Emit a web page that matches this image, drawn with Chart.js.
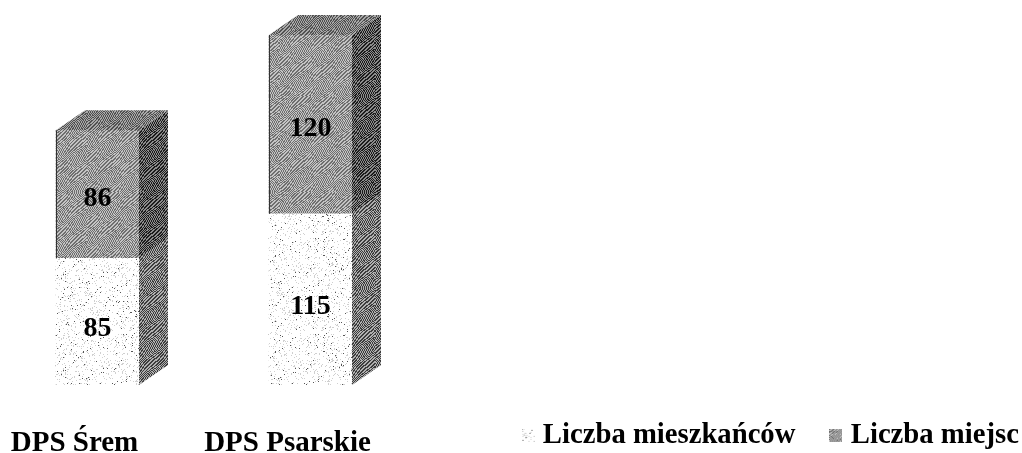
<!DOCTYPE html>
<html lang="pl">
<head>
<meta charset="UTF-8">
<title>DPS - liczba mieszkańców i miejsc</title>
<script src="https://cdn.jsdelivr.net/npm/chart.js"></script>
<style>
    html, body { margin: 0; padding: 0; background: #fff; overflow: hidden; }
    /* wrapper is pulled left so the category slots land under the scanned bars */
    #wrap { position: absolute; left: -9px; top: 0; width: 1031px; height: 453px; }
</style>
</head>
<body>
<div id="wrap"><canvas id="chart"></canvas></div>
<script>
const categories = ['DPS Śrem', 'DPS Psarskie'];
const seriesNames = ['Liczba mieszkańców', 'Liczba miejsc'];
const residents = [85, 115];
const places = [86, 120];

const FONT = '"Liberation Serif", serif';
const DX = 29, DY = 20;   // 3D depth

function noise(x, y) {
    const s = Math.sin(x * 12.9898 + y * 78.233) * 43758.5453;
    return s - Math.floor(s);
}

// scanned halftone look: square of pixels, used as pattern and as legend swatch
function tile(size, kind, a, b) {
    const c = document.createElement('canvas');
    c.width = c.height = size;
    const g = c.getContext('2d');
    g.fillStyle = '#fff';
    g.fillRect(0, 0, size, size);
    for (let y = 0; y < size; y++) {
        for (let x = 0; x < size; x++) {
            if (kind === 'dots') {
                const n = noise(x, y);
                if (n < 0.02) { g.fillStyle = '#555'; g.fillRect(x, y, 1, 1); }
                else if (n < 0.12) { g.fillStyle = '#d0d0d0'; g.fillRect(x, y, 1, 1); }
            } else {
                const wave = Math.floor(2.5 * Math.sin(y / 5 + x / 9) + 2 * Math.sin(x / 7));
                const on = (x + y + wave) % 2 === 0;
                g.fillStyle = on ? a : b;
                g.fillRect(x, y, 1, 1);
            }
        }
    }
    return c;
}

function pattern(kind, a, b) {
    return document.createElement('canvas').getContext('2d').createPattern(tile(96, kind, a, b), 'repeat');
}

const fillLow = pattern('dots');
const fillHigh = pattern('dither', '#6e6e6e', '#c4c4c4');
const sideLow = pattern('dither', '#3c3c3c', '#b0b0b0');
const sideHigh = pattern('dither', '#1c1c1c', '#8c8c8c');
const fillTop = pattern('dither', '#505050', '#a8a8a8');

function poly(ctx, pts, fill) {
    ctx.beginPath();
    pts.forEach((p, i) => i ? ctx.lineTo(p[0], p[1]) : ctx.moveTo(p[0], p[1]));
    ctx.closePath();
    ctx.fillStyle = fill;
    ctx.fill();
}

const boxes3d = {
    id: 'boxes3d',
    beforeLayout(chart) {
        // legend shares the row of the tick labels, it must not reserve any height
        const l = chart.legend;
        if (!l.patched) {
            const fit = l.fit;
            l.fit = function () { this.maxWidth = 1200; fit.call(this); this.height = 0; };
            l.patched = true;
        }
    },
    afterLayout(chart) {
        const l = chart.legend;
        l.left = 496.5;
        l.right = 1200;   // trailing padding of the last item would wrap it otherwise
        l.top = 381;
        l.bottom = chart.height;
    },
    afterDatasetsDraw(chart) {
        const ctx = chart.ctx;
        ctx.save();
        chart.data.datasets.forEach((ds, i) => {
            chart.getDatasetMeta(i).data.forEach((bar, j) => {
                const r = bar.x + bar.width / 2, l = bar.x - bar.width / 2;
                poly(ctx, [[r, bar.y], [r + DX, bar.y - DY], [r + DX, bar.base - DY], [r, bar.base]], i ? sideHigh : sideLow);
                if (i === chart.data.datasets.length - 1) {
                    poly(ctx, [[l, bar.y], [l + DX, bar.y - DY], [r + DX, bar.y - DY], [r, bar.y]], fillTop);
                    ctx.strokeStyle = '#333';
                    ctx.beginPath();
                    ctx.moveTo(l + 0.5, bar.base);
                    ctx.lineTo(l + 0.5, bar.y);
                    ctx.stroke();
                }
                ctx.fillStyle = '#000';
                ctx.font = 'bold 28px ' + FONT;
                ctx.textAlign = 'center';
                ctx.textBaseline = 'middle';
                // value labels sit a bit under the middle of the segment in the scan
                ctx.fillText(ds.data[j], bar.x, (bar.y + bar.base) / 2 + (i ? 4 : 7));
            });
        });
        ctx.restore();
    }
};

new Chart(document.getElementById('chart'), {
    type: 'bar',
    data: {
        labels: categories,
        datasets: [
            { label: seriesNames[0], data: residents, backgroundColor: fillLow, barThickness: 83, pointStyle: tile(13, 'dots') },
            { label: seriesNames[1], data: places, backgroundColor: fillHigh, barThickness: 83, pointStyle: tile(13, 'dither', '#6e6e6e', '#c4c4c4') }
        ]
    },
    options: {
        responsive: true,
        maintainAspectRatio: false,
        animation: false,
        layout: { padding: { top: 35, right: 605, bottom: 0, left: 0 } },
        plugins: {
            tooltip: { enabled: false },
            legend: {
                display: true,
                position: 'top',
                align: 'start',
                labels: {
                    color: '#000',
                    usePointStyle: true,
                    pointStyleWidth: 1,
                    padding: 40,
                    font: { family: FONT, size: 28.7, weight: 'bold' }
                }
            }
        },
        scales: {
            x: {
                stacked: true,
                grid: { display: false },
                border: { display: false },
                afterFit: scale => { scale.height = 68; },
                ticks: {
                    color: '#000',
                    padding: 33,
                    labelOffset: -23,
                    maxRotation: 0,
                    font: { family: FONT, size: 29, weight: 'bold' }
                }
            },
            y: { stacked: true, display: false, min: 0, max: 235 }
        }
    },
    plugins: [boxes3d]
});
</script>
</body>
</html>
